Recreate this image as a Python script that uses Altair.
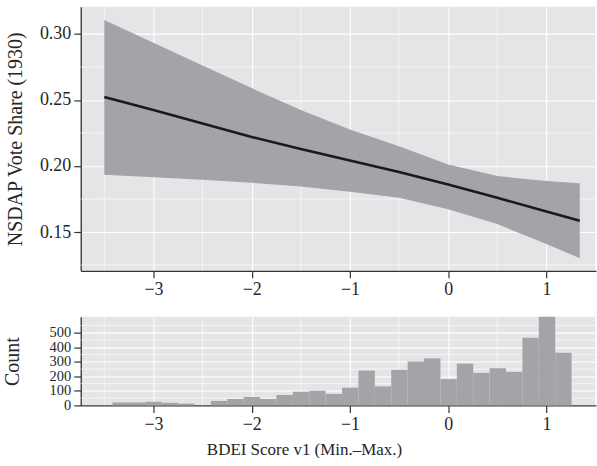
import altair as alt
import pandas as pd
import numpy as np

FONT = "Liberation Serif"
TXT = "#262626"

# ---- top panel: fitted line and confidence band ----
x_vals = [-3.5, -3.0, -2.5, -2.0, -1.5, -1.0, -0.5, 0.0, 0.5, 1.0, 1.34]
fit = [0.2522, 0.2425, 0.2322, 0.2220, 0.2128, 0.2042, 0.1955, 0.1860, 0.1760, 0.1655, 0.1585]
upper = [0.3106, 0.2934, 0.2762, 0.2590, 0.2425, 0.2276, 0.2150, 0.2012, 0.1924, 0.1886, 0.1869]
lower = [0.1934, 0.1915, 0.1895, 0.1873, 0.1845, 0.1806, 0.1760, 0.1673, 0.1560, 0.1410, 0.1302]

# ---- bottom panel: histogram (30 bins) ----
hist_counts = [0, 20, 20, 25, 18, 12, 0, 31, 44, 58, 44, 72, 94, 101, 79, 122,
               240, 131, 245, 302, 324, 181, 288, 224, 256, 231, 466, 610, 363, 0]
bin_first_left = -3.5835
bin_width = 0.1669

x_ticks = [-3, -2, -1, 0, 1]
x_minor = [-3.5, -2.5, -1.5, -0.5, 0.5, 1.5]
y_ticks_top = [0.15, 0.20, 0.25, 0.30]
y_minor_top = [0.125, 0.175, 0.225, 0.275]
y_ticks_hist = [0, 100, 200, 300, 400, 500]
y_minor_hist = [50, 150, 250, 350, 450, 550]

X_DOMAIN = [-3.74, 1.505]
Y_DOMAIN_TOP = [0.1206, 0.3206]
Y_DOMAIN_HIST = [0, 611]

BG = "#e5e5e7"
BAND = "#a3a4a7"

df_top = pd.DataFrame({"x": x_vals, "fit": fit, "lo": lower, "hi": upper})
lefts = [bin_first_left + i * bin_width for i in range(len(hist_counts))]
df_hist = pd.DataFrame({"lo": lefts, "hi": [l + bin_width for l in lefts], "count": hist_counts})

axis_common = dict(
    labelFont=FONT, labelColor=TXT, labelOverlap=False,
    titleFont=FONT, titleColor=TXT, titleFontWeight="normal",
    domainColor="#333333", domainWidth=1.3,
    tickColor="#333333", tickWidth=1.2, tickSize=7,
    grid=True, gridColor="white", gridWidth=1.1, labelPadding=3,
)

xs = alt.Scale(domain=X_DOMAIN, nice=False, zero=False)
ys_top = alt.Scale(domain=Y_DOMAIN_TOP, nice=False, zero=False)
ys_hist = alt.Scale(domain=Y_DOMAIN_HIST, nice=False, zero=False)

x_axis_top = alt.Axis(values=x_ticks, title=None, format="d", labelFontSize=18, **axis_common)
y_axis_top = alt.Axis(values=y_ticks_top, format=".2f", title="NSDAP Vote Share (1930)",
                      labelFontSize=18, titleFontSize=20, titlePadding=14, **axis_common)
x_axis_hist = alt.Axis(values=x_ticks, format="d", title="BDEI Score v1 (Min.\u2013Max.)",
                       labelFontSize=18, titleFontSize=17, titlePadding=8, titleX=224,
                       titleAlign="center", **axis_common)
y_axis_hist = alt.Axis(values=y_ticks_hist, format="d", title="Count",
                       labelFontSize=14.5, titleFontSize=20, titlePadding=27, **axis_common)

W = 517
H_TOP = 265
H_HIST = 89

# minor gridlines
vminor_top = alt.Chart(pd.DataFrame({"v": x_minor})).mark_rule(color="white", strokeWidth=0.6).encode(
    x=alt.X("v:Q", scale=xs, axis=x_axis_top))
hminor_top = alt.Chart(pd.DataFrame({"v": y_minor_top})).mark_rule(color="white", strokeWidth=0.6).encode(
    y=alt.Y("v:Q", scale=ys_top, axis=y_axis_top))

band = alt.Chart(df_top).mark_area(color=BAND, opacity=1).encode(
    x=alt.X("x:Q", scale=xs, axis=x_axis_top),
    y=alt.Y("lo:Q", scale=ys_top, axis=y_axis_top),
    y2="hi:Q",
)
line = alt.Chart(df_top).mark_line(color="#1a1a1a", strokeWidth=2.6).encode(
    x=alt.X("x:Q", scale=xs, axis=x_axis_top),
    y=alt.Y("fit:Q", scale=ys_top, axis=y_axis_top))

top = alt.layer(vminor_top, hminor_top, band, line).properties(width=W, height=H_TOP)

vminor_h = alt.Chart(pd.DataFrame({"v": x_minor})).mark_rule(color="white", strokeWidth=0.6).encode(
    x=alt.X("v:Q", scale=xs, axis=x_axis_hist))
hminor_h = alt.Chart(pd.DataFrame({"v": y_minor_hist})).mark_rule(color="white", strokeWidth=0.6).encode(
    y=alt.Y("v:Q", scale=ys_hist, axis=y_axis_hist))

bars = alt.Chart(df_hist).mark_rect(color=BAND, opacity=1, strokeWidth=0).encode(
    x=alt.X("lo:Q", scale=xs, axis=x_axis_hist),
    x2="hi:Q",
    y=alt.Y("count:Q", scale=ys_hist, axis=y_axis_hist),
    y2=alt.datum(0),
)

hist = alt.layer(vminor_h, hminor_h, bars).properties(width=W, height=H_HIST)

chart = alt.vconcat(top, hist, spacing=17).properties(
    padding={"left": 2, "top": 5, "right": 0, "bottom": 0},
    background="white",
).configure_view(fill=BG, stroke=None)

chart.save("out.html", embed_options={"renderer": "svg", "actions": False})
